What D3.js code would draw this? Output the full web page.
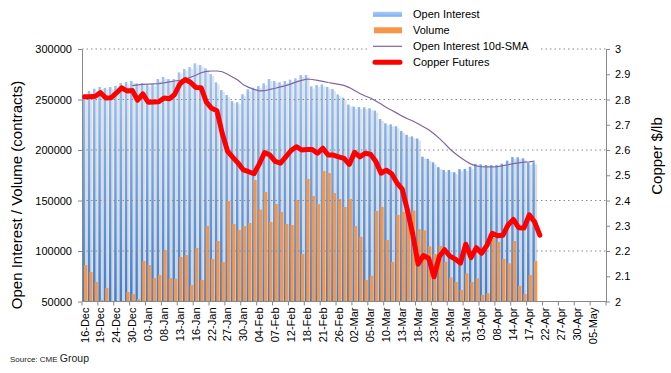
<!DOCTYPE html>
<html>
<head>
<meta charset="utf-8">
<script src="https://cdn.jsdelivr.net/npm/d3@7"></script>
<style>
body { margin: 0; background: #fff; }
svg text { font-family: "Liberation Sans", Arial, sans-serif; }
</style>
</head>
<body>
<svg id="chart" width="671" height="373"></svg>
<script>
// trading days shown on the category axis (a label every 3rd day)
var dates = ["16-Dec","17-Dec","18-Dec","19-Dec","20-Dec","23-Dec","24-Dec","26-Dec","27-Dec","30-Dec","31-Dec",
  "02-Jan","03-Jan","06-Jan","07-Jan","08-Jan","09-Jan","10-Jan","13-Jan","14-Jan","15-Jan","16-Jan","17-Jan","21-Jan","22-Jan","23-Jan","24-Jan","27-Jan","28-Jan","29-Jan","30-Jan","31-Jan",
  "03-Feb","04-Feb","05-Feb","06-Feb","07-Feb","10-Feb","11-Feb","12-Feb","13-Feb","14-Feb","18-Feb","19-Feb","20-Feb","21-Feb","24-Feb","25-Feb","26-Feb","27-Feb","28-Feb",
  "02-Mar","03-Mar","04-Mar","05-Mar","06-Mar","09-Mar","10-Mar","11-Mar","12-Mar","13-Mar","16-Mar","17-Mar","18-Mar","19-Mar","20-Mar","23-Mar","24-Mar","25-Mar","26-Mar","27-Mar","30-Mar","31-Mar",
  "01-Apr","02-Apr","03-Apr","06-Apr","07-Apr","08-Apr","09-Apr","13-Apr","14-Apr","15-Apr","16-Apr","17-Apr","20-Apr","21-Apr","22-Apr","23-Apr","24-Apr","27-Apr","28-Apr","29-Apr","30-Apr",
  "01-May","04-May","05-May","06-May","07-May"];

// thousand contracts
var openInterest = [255,258.4,260.7,262.4,261.4,262.4,263.4,266.3,267.3,268.3,266,266.3,265,265.3,270.3,272.3,270.3,270.3,
  276.9,280.2,282.2,285.8,284.2,280.9,275.2,267,259.4,254.5,248.5,247.2,255.2,260.1,261.7,263.4,266,
  270.3,268.3,267,268.3,269.6,271,274.3,274.3,263,264.4,265,262.4,260.3,255,251.8,245,243,
  242.6,242.3,241.3,239,230.7,226.4,225.4,223.5,218.8,215,213.5,211.5,193.4,191.3,187.8,183,180.2,180.2,
  178,181,181.2,183.5,186.3,185.8,185.1,185.1,185.1,186.5,189.5,193,192.8,191.8,187.3,187.8];

var volume = [86.1,79.2,69.3,51.5,63.4,50.5,42,38,59.4,57.4,52.5,90.1,86.1,73.2,76.2,101,73.2,72.5,
  94.1,96,66.3,103,71.3,124.7,92.1,109.9,89.1,149.5,126.7,120.8,124.7,127.7,170.3,140.9,158.4,
  128.7,146.5,138.6,126.7,125.7,150.5,97,171.3,154.5,146.5,179.2,177.2,157.4,151.5,143.6,151.5,124.7,
  114,71.3,75.4,139.6,143.7,110.9,89.2,135.7,138.7,142,140,121.6,120.5,104.6,97,105,89.4,73.8,
  69.3,61.4,77.9,69.3,73,56.4,58.1,113,108.9,92.1,87.8,109.9,65.5,57.4,76.2,90.1];

var oiSma = [null,null,null,null,null,null,null,null,null,263.7,264.5,265,265.3,265.5,265.7,266.5,267.5,268.3,
  269,270,272,274,276.5,277.8,278.2,278.2,277.5,275,272,269,264.5,262,260,258.5,258.7,
  260,261.1,262.5,263.7,265.5,267.5,269,270.3,269.8,269,268,266.8,266,265,264,261.8,259,
  256,253.5,251.5,248.5,245.5,242,239.3,236.5,233.5,231,228.7,226,223,220,216,211.5,206.5,201,
  196.5,192.5,189,186,184.3,183.4,183.2,183.2,183.6,184.5,185.4,186.5,187.3,187.9,188.3,189];

// $/lb
var copper = [2.811,2.811,2.813,2.827,2.806,2.807,2.826,2.846,2.834,2.836,2.797,2.822,2.789,2.79,2.791,2.806,2.803,2.82,
  2.862,2.879,2.868,2.848,2.847,2.79,2.765,2.755,2.665,2.595,2.571,2.548,2.521,2.514,2.506,2.545,2.59,
  2.58,2.555,2.548,2.573,2.598,2.613,2.6,2.602,2.602,2.587,2.607,2.58,2.58,2.573,2.567,2.543,2.591,
  2.573,2.587,2.583,2.555,2.508,2.52,2.506,2.47,2.445,2.36,2.265,2.148,2.182,2.171,2.098,2.178,2.205,2.18,
  2.168,2.152,2.227,2.174,2.213,2.191,2.222,2.27,2.26,2.262,2.303,2.325,2.292,2.291,2.343,2.316,2.263];

var leftTicks = [50, 100, 150, 200, 250, 300];
var rightTicks = [2, 2.1, 2.2, 2.3, 2.4, 2.5, 2.6, 2.7, 2.8, 2.9, 3];
var gridTicks = [100, 150, 200, 250, 300];
var legendItems = ["Open Interest", "Volume", "Open Interest 10d-SMA", "Copper Futures"];

var plotL = 82, plotR = 606, plotT = 49, plotB = 301.5;
var svg = d3.select("#chart");

var x = d3.scaleBand().domain(dates).range([plotL, plotR]).padding(0);
var w = x.bandwidth();
var yL = d3.scaleLinear().domain([50, 300]).range([plotB, plotT]);
var yR = d3.scaleLinear().domain([2, 3]).range([plotB, plotT]);

var defs = svg.append("defs");
var blueGrad = defs.append("linearGradient").attr("id", "oiGrad")
  .attr("gradientUnits", "userSpaceOnUse").attr("x1", 0).attr("x2", 0).attr("y1", plotT).attr("y2", plotB);
blueGrad.append("stop").attr("offset", "0%").attr("stop-color", "#a9cbf6");
blueGrad.append("stop").attr("offset", "100%").attr("stop-color", "#3b7cd2");
var greyGrad = defs.append("linearGradient").attr("id", "shGrad")
  .attr("gradientUnits", "userSpaceOnUse").attr("x1", 0).attr("x2", 0).attr("y1", plotT).attr("y2", plotB);
greyGrad.append("stop").attr("offset", "0%").attr("stop-color", "#e8e8e8");
greyGrad.append("stop").attr("offset", "100%").attr("stop-color", "#d2d2d2");
var legGrad = defs.append("linearGradient").attr("id", "legGrad").attr("x1", 0).attr("x2", 0).attr("y1", 0).attr("y2", 1);
legGrad.append("stop").attr("offset", "0%").attr("stop-color", "#a9cbf6");
legGrad.append("stop").attr("offset", "100%").attr("stop-color", "#7eb0ef");

var bars = openInterest.map(function(v, i) {
  return {date: dates[i], oi: v, vol: volume[i]};
});

// bar shadows
svg.append("g").selectAll("rect").data(bars).join("rect")
  .attr("x", d => x(d.date) + 0.56 * w)
  .attr("width", 0.44 * w)
  .attr("y", d => yL(d.oi) + 2)
  .attr("height", d => plotB - yL(d.oi) - 2)
  .attr("fill", "url(#shGrad)");

// open interest
svg.append("g").selectAll("rect").data(bars).join("rect")
  .attr("x", d => x(d.date) + 0.08 * w)
  .attr("width", 0.48 * w)
  .attr("y", d => yL(d.oi))
  .attr("height", d => plotB - yL(d.oi))
  .attr("fill", "url(#oiGrad)");

// volume
svg.append("g").selectAll("rect").data(bars).join("rect")
  .attr("x", d => x(d.date) + 0.38 * w)
  .attr("width", 0.62 * w)
  .attr("y", d => yL(Math.max(d.vol, 50)))
  .attr("height", d => plotB - yL(Math.max(d.vol, 50)))
  .attr("fill", "#f79646");

// gridlines
svg.append("g").selectAll("line").data(gridTicks).join("line")
  .attr("x1", plotL).attr("x2", plotR)
  .attr("y1", d => yL(d)).attr("y2", d => yL(d))
  .attr("stroke", "#8a8a8a").attr("stroke-dasharray", "1.5,3");

// left axis
var axL = svg.append("g").attr("transform", "translate(" + plotL + ",0)")
  .call(d3.axisLeft(yL).tickValues(leftTicks).tickSize(4).tickSizeOuter(0).tickPadding(6).tickFormat(d => d * 1000));
axL.select(".domain").attr("stroke", "#888");
axL.selectAll(".tick line").attr("stroke", "#888");
axL.selectAll("text").attr("font-size", 11).attr("fill", "#000");

// right axis
var axR = svg.append("g").attr("transform", "translate(" + plotR + ",0)")
  .call(d3.axisRight(yR).tickValues(rightTicks).tickSize(4).tickSizeOuter(0).tickPadding(5).tickFormat(d3.format(".1~f")));
axR.select(".domain").attr("stroke", "#888");
axR.selectAll(".tick line").attr("stroke", "#888");
axR.selectAll("text").attr("font-size", 11).attr("fill", "#000");

// category axis
var axB = svg.append("g");
axB.append("line").attr("x1", plotL).attr("x2", plotR).attr("y1", plotB).attr("y2", plotB).attr("stroke", "#888");
var tickDays = dates.filter((d, i) => i % 3 === 0);
axB.selectAll("line.tk").data(tickDays.map(d => x(d)).concat([plotR])).join("line").attr("class", "tk")
  .attr("x1", d => d).attr("x2", d => d).attr("y1", plotB).attr("y2", plotB + 4).attr("stroke", "#888");
axB.selectAll("text").data(tickDays).join("text")
  .attr("transform", d => "translate(" + (x(d) + w / 2) + "," + (plotB + 6) + ") rotate(-90)")
  .attr("dy", "0.35em").attr("text-anchor", "end").attr("font-size", 11).attr("fill", "#000")
  .text(d => d);

// lines
var pts = arr => arr.map((v, i) => ({date: dates[i], v: v}));
svg.append("path").datum(pts(oiSma))
  .attr("d", d3.line().defined(d => d.v != null).x(d => x(d.date) + w / 2).y(d => yL(d.v)))
  .attr("fill", "none").attr("stroke", "#8064a2").attr("stroke-width", 1.2);
svg.append("path").datum(pts(copper))
  .attr("d", d3.line().x(d => x(d.date) + w / 2).y(d => yR(d.v)))
  .attr("fill", "none").attr("stroke", "#ff0000").attr("stroke-width", 5)
  .attr("stroke-linejoin", "round").attr("stroke-linecap", "round");

// axis titles
svg.append("text").attr("transform", "translate(22,195) rotate(-90)")
  .attr("text-anchor", "middle").attr("font-size", 15).attr("fill", "#000")
  .text("Open Interest / Volume (contracts)");
svg.append("text").attr("transform", "translate(662,156) rotate(-90)")
  .attr("text-anchor", "middle").attr("font-size", 15).attr("fill", "#000")
  .text("Copper $/lb");

// legend
var leg = svg.append("g");
leg.append("rect").attr("x", 368).attr("y", 4).attr("width", 173).attr("height", 67).attr("fill", "#fff");
var legRow = leg.selectAll("g").data(legendItems).join("g")
  .attr("transform", (d, i) => "translate(0," + (14.3 + i * 16) + ")");
legRow.append("text").attr("x", 413).attr("y", 4).attr("font-size", 11).attr("fill", "#000").text(d => d);
legRow.filter((d, i) => i === 0).append("rect").attr("x", 373).attr("y", -2.5).attr("width", 29).attr("height", 5).attr("fill", "url(#legGrad)");
legRow.filter((d, i) => i === 1).append("rect").attr("x", 374).attr("y", -3).attr("width", 28).attr("height", 6).attr("fill", "#f79646");
legRow.filter((d, i) => i === 2).append("line").attr("x1", 373).attr("x2", 402).attr("stroke", "#8064a2").attr("stroke-width", 1.2);
legRow.filter((d, i) => i === 3).append("line").attr("x1", 375).attr("x2", 400).attr("stroke", "#ff0000").attr("stroke-width", 5).attr("stroke-linecap", "round");

// source
var src = svg.append("text").attr("x", 10).attr("y", 362).attr("fill", "#222");
src.append("tspan").attr("font-size", 8).text("Source: CME ");
src.append("tspan").attr("font-size", 10.5).text("Group");
</script>
</body>
</html>
